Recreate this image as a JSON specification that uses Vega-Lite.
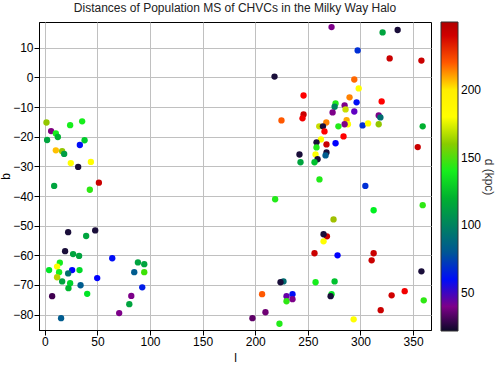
{
  "$schema": "https://vega.github.io/schema/vega-lite/v6.json",
  "width": 392,
  "height": 308,
  "autosize": "none",
  "padding": {"left": 39, "top": 22, "right": 69, "bottom": 40},
  "background": "white",
  "title": {"text": "Distances of Population MS of CHVCs in the Milky Way Halo", "fontSize": 12, "font": "Liberation Sans", "fontWeight": "normal", "color": "#222222", "offset": 7, "anchor": "middle"},
  "config": {
    "view": {"stroke": "black", "strokeWidth": 1},
    "axis": {"labelFont": "Liberation Sans", "labelFontSize": 12, "labelColor": "black", "tickColor": "black", "tickSize": 5, "labelPadding": 1, "domainColor": "black", "gridColor": "#c0c0c0", "gridOpacity": 1, "titleFont": "Liberation Sans", "titleFontSize": 12, "titleFontWeight": "normal", "titleColor": "black"},
    "legend": {"labelFont": "Liberation Sans", "labelFontSize": 12, "labelColor": "black", "titleFont": "Liberation Sans", "titleFontSize": 12, "titleFontWeight": "normal", "titleColor": "#333333"}
  },
  "data": {"values": [
    {"l": 1.6, "b": -15.2, "d": 162}, {"l": 6, "b": -18.1, "d": 38}, {"l": 10.5, "b": -18.9, "d": 140}, {"l": 12.4, "b": -20.1, "d": 120},
    {"l": 2.2, "b": -21.1, "d": 115}, {"l": 24.1, "b": -16.1, "d": 140}, {"l": 35.5, "b": -14.8, "d": 140}, {"l": 37.8, "b": -21.2, "d": 128},
    {"l": 33.3, "b": -22.8, "d": 60}, {"l": 10.5, "b": -24.6, "d": 205}, {"l": 16.5, "b": -24.9, "d": 162}, {"l": 18.4, "b": -25.8, "d": 112},
    {"l": 24.7, "b": -28.9, "d": 185}, {"l": 43.8, "b": -28.5, "d": 185}, {"l": 31.7, "b": -30.2, "d": 25}, {"l": 8.9, "b": -36.6, "d": 115},
    {"l": 51.4, "b": -35.5, "d": 242}, {"l": 42.8, "b": -37.9, "d": 145}, {"l": 22.2, "b": -52.2, "d": 25}, {"l": 47.9, "b": -51.6, "d": 25},
    {"l": 39.3, "b": -53.5, "d": 115}, {"l": 19.3, "b": -58.6, "d": 25}, {"l": 26.9, "b": -59.6, "d": 115}, {"l": 32.6, "b": -60.2, "d": 115},
    {"l": 14.3, "b": -62.5, "d": 140}, {"l": 4.1, "b": -65.0, "d": 135}, {"l": 11.7, "b": -63.8, "d": 185}, {"l": 13.6, "b": -65.7, "d": 140},
    {"l": 26, "b": -65, "d": 58}, {"l": 33, "b": -65, "d": 132}, {"l": 22.2, "b": -66.1, "d": 92}, {"l": 11.7, "b": -67.4, "d": 168},
    {"l": 16.5, "b": -68.8, "d": 115}, {"l": 24.1, "b": -69.4, "d": 130}, {"l": 22.5, "b": -71.1, "d": 122}, {"l": 34, "b": -70.1, "d": 82},
    {"l": 49.8, "b": -67.7, "d": 58}, {"l": 40.3, "b": -73.0, "d": 135}, {"l": 7, "b": -73.8, "d": 30}, {"l": 15.5, "b": -81.2, "d": 82},
    {"l": 64.1, "b": -61, "d": 60}, {"l": 88.5, "b": -62.4, "d": 115}, {"l": 94.5, "b": -63, "d": 115}, {"l": 85, "b": -65.7, "d": 82},
    {"l": 94.5, "b": -65.7, "d": 150}, {"l": 92.6, "b": -70.8, "d": 64}, {"l": 82.2, "b": -73.7, "d": 40}, {"l": 80.3, "b": -76.5, "d": 115},
    {"l": 70.7, "b": -79.5, "d": 40}, {"l": 197.3, "b": -81.2, "d": 34}, {"l": 209.7, "b": -79.2, "d": 36}, {"l": 223, "b": -83.1, "d": 142},
    {"l": 206.5, "b": -73.1, "d": 220}, {"l": 229.7, "b": -73.8, "d": 46}, {"l": 229.7, "b": -75.5, "d": 145}, {"l": 235.4, "b": -73.1, "d": 60},
    {"l": 235.4, "b": -74.8, "d": 40}, {"l": 226.8, "b": -68.8, "d": 90}, {"l": 224, "b": -69.1, "d": 25}, {"l": 218.9, "b": -41.1, "d": 142},
    {"l": 257.3, "b": -69.1, "d": 140}, {"l": 275.4, "b": -68.8, "d": 125}, {"l": 272.5, "b": -73.1, "d": 135}, {"l": 271.6, "b": -73.8, "d": 25},
    {"l": 293.5, "b": -81.6, "d": 185}, {"l": 319.2, "b": -78.5, "d": 242}, {"l": 329.6, "b": -73.5, "d": 240}, {"l": 342, "b": -72.1, "d": 232},
    {"l": 360.1, "b": -75.2, "d": 145}, {"l": 357.9, "b": -65.4, "d": 25}, {"l": 312.5, "b": -44.8, "d": 138}, {"l": 359.1, "b": -43.1, "d": 145},
    {"l": 274.4, "b": -47.9, "d": 165}, {"l": 268.1, "b": -53.6, "d": 242}, {"l": 264.9, "b": -52.9, "d": 25}, {"l": 264.9, "b": -55.3, "d": 185},
    {"l": 256.3, "b": -59.3, "d": 242}, {"l": 278.2, "b": -60, "d": 58}, {"l": 312.5, "b": -59.3, "d": 242}, {"l": 310.6, "b": -61.7, "d": 242},
    {"l": 304.6, "b": -36.6, "d": 68}, {"l": 272.5, "b": 17, "d": 40}, {"l": 321, "b": 15.2, "d": 115}, {"l": 335.3, "b": 16, "d": 25},
    {"l": 297.3, "b": 9.1, "d": 68}, {"l": 327.7, "b": 6.4, "d": 242}, {"l": 357.9, "b": 5.7, "d": 242}, {"l": 218.3, "b": 0.3, "d": 25},
    {"l": 294.1, "b": -0.7, "d": 217}, {"l": 298.3, "b": -3.7, "d": 185}, {"l": 245.9, "b": -6.1, "d": 229}, {"l": 289.6, "b": -6.7, "d": 213},
    {"l": 320.1, "b": -8.1, "d": 229}, {"l": 296.3, "b": -8.4, "d": 60}, {"l": 276.3, "b": -8.8, "d": 142}, {"l": 275.4, "b": -9.9, "d": 100},
    {"l": 284.9, "b": -9.4, "d": 40}, {"l": 285.8, "b": -10.8, "d": 170}, {"l": 273.5, "b": -11.8, "d": 40}, {"l": 294.1, "b": -11.5, "d": 50},
    {"l": 317.3, "b": -12.8, "d": 40}, {"l": 318.9, "b": -13.5, "d": 90}, {"l": 245.9, "b": -12.5, "d": 242}, {"l": 244.9, "b": -13.8, "d": 232},
    {"l": 224.9, "b": -14.5, "d": 220}, {"l": 267.5, "b": -15.2, "d": 213}, {"l": 286.8, "b": -14.4, "d": 208}, {"l": 288.1, "b": -15.8, "d": 185},
    {"l": 284.9, "b": -15.8, "d": 40}, {"l": 260.8, "b": -16.5, "d": 170}, {"l": 264.3, "b": -16.5, "d": 25}, {"l": 279, "b": -16.5, "d": 142},
    {"l": 302, "b": -16.2, "d": 68}, {"l": 307.2, "b": -15.5, "d": 185}, {"l": 317.3, "b": -15.8, "d": 162}, {"l": 359.1, "b": -16.5, "d": 120},
    {"l": 265.8, "b": -18.2, "d": 229}, {"l": 283.9, "b": -19.9, "d": 229}, {"l": 262.4, "b": -20.9, "d": 185}, {"l": 258.2, "b": -21.9, "d": 25},
    {"l": 267.7, "b": -22.6, "d": 242}, {"l": 276.3, "b": -22.2, "d": 58}, {"l": 258.2, "b": -23.6, "d": 142}, {"l": 354.4, "b": -23.5, "d": 242},
    {"l": 242, "b": -26, "d": 25}, {"l": 257.3, "b": -26, "d": 185}, {"l": 267.7, "b": -25.3, "d": 25}, {"l": 266.8, "b": -26.3, "d": 82},
    {"l": 259.2, "b": -27.6, "d": 25}, {"l": 243, "b": -28.6, "d": 115}, {"l": 256.3, "b": -28.6, "d": 125}, {"l": 261, "b": -34.4, "d": 142}
  ]},
  "mark": {"type": "circle", "size": 40, "opacity": 1},
  "encoding": {
    "x": {"field": "l", "type": "quantitative", "scale": {"domain": [-5.5, 367], "nice": false, "zero": false},
      "axis": {"title": "l", "values": [0, 50, 100, 150, 200, 250, 300, 350], "titlePadding": 5}},
    "y": {"field": "b", "type": "quantitative", "scale": {"domain": [-85.2, 18.7], "nice": false, "zero": false},
      "axis": {"title": "b", "values": [-80, -70, -60, -50, -40, -30, -20, -10, 0, 10], "titlePadding": 0}},
    "color": {"field": "d", "type": "quantitative",
      "scale": {"domain": [22, 30, 38, 46, 58, 66, 77, 89, 104, 120, 138, 152, 165, 176, 198, 205, 215, 229, 240, 250],
        "range": ["#0c0828", "#400050", "#800080", "#6800a8", "#0000ff", "#0020e0", "#004a9a", "#006a70", "#008a50", "#00b030", "#00f020", "#40e000", "#a0c000", "#ffff00", "#ffff00", "#ffc000", "#ff7000", "#ff0000", "#d00000", "#b00000"]},
      "legend": {"title": "d (kpc)", "titleOrient": "right", "titleAnchor": "middle", "gradientLength": 309, "gradientThickness": 17, "offset": 10, "padding": 0, "values": [50, 100, 150, 200], "gradientStrokeColor": "#333333", "gradientStrokeWidth": 1, "direction": "vertical", "labelOffset": 3, "titlePadding": 1}}
  }
}
